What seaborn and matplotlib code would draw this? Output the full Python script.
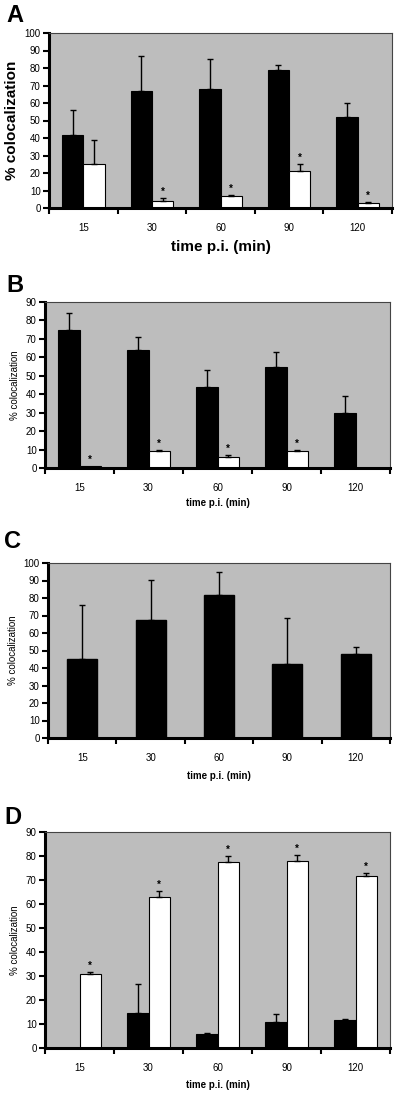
import numpy as np
import pandas as pd
import matplotlib
matplotlib.use("Agg")
import matplotlib.pyplot as plt
import seaborn as sns

# veri (okunan degerler)
times = ["15", "30", "60", "90", "120"]

a_black = [42, 67, 68, 79, 52]
a_black_err = [14, 20, 17, 3, 8]
a_white = [25, 4, 7, 21, 3]
a_white_err = [14, 1.5, 0.5, 4, 0.3]
a_star = [False, True, True, True, True]

b_black = [75, 64, 44, 55, 30]
b_black_err = [9, 7, 9, 8, 9]
b_white = [1, 9, 6, 9, 0]
b_white_err = [0, 0.5, 1, 0.8, 0]
b_star = [True, True, True, True, False]

c_black = [45, 67.5, 82, 42.5, 48]
c_black_err = [31, 23, 13, 26, 4]

d_black = [0, 14.5, 6, 11, 11.5]
d_black_err = [0, 12, 0.3, 3, 0.6]
d_white = [31, 63, 77.5, 78, 71.5]
d_white_err = [0.6, 2.5, 2.5, 2.5, 1.5]
d_star = [True, True, True, True, True]

W, H = 400, 1098
BG = "#bdbdbd"

sns.set_style("white")
plt.rcParams["font.family"] = ["Liberation Sans", "DejaVu Sans"]
plt.rcParams["text.color"] = "black"
plt.rcParams["axes.labelcolor"] = "black"
plt.rcParams["xtick.color"] = "black"
plt.rcParams["ytick.color"] = "black"

fig = plt.figure(figsize=(W / 100, H / 100), dpi=100)


def px_axes(left, top, right, bottom):
    return fig.add_axes([left / W, 1 - bottom / H, (right - left) / W, (bottom - top) / H])


def style_axes(ax, ymax, ylabel, label_size, bold, xlab_px):
    ax.set_facecolor(BG)
    ax.set_ylim(0, ymax)
    ax.set_xlim(-0.5, 4.5)
    ax.set_yticks(np.arange(0, ymax + 1, 10))
    ax.set_xticks(range(5))
    ax.set_xticklabels(times)
    ax.set_xticks(np.arange(-0.5, 5, 1), minor=True)
    ax.tick_params(axis="x", which="major", length=0, pad=11, labelsize=7)
    ax.tick_params(axis="x", which="minor", length=4, width=1.5, direction="out", bottom=True)
    ax.tick_params(axis="y", length=4, width=1.5, direction="out", left=True, pad=2, labelsize=7)
    for s in ["left", "bottom"]:
        ax.spines[s].set_linewidth(2.2)
        ax.spines[s].set_color("black")
    for s in ["top", "right"]:
        ax.spines[s].set_linewidth(0.8)
        ax.spines[s].set_color("#444444")
    w = "bold" if bold else "normal"
    ax.set_ylabel(ylabel, fontsize=label_size, fontweight=w)
    ax.set_xlabel("time p.i. (min)", fontsize=label_size if bold else 7, fontweight="bold")
    h_px = ax.get_position().height * H
    ax.xaxis.set_label_coords(0.5, -xlab_px / h_px)


def draw_pair(ax, black, black_err, white, white_err, stars):
    df = pd.DataFrame({
        "time": times * 2,
        "value": black + white,
        "series": ["k"] * 5 + ["w"] * 5,
    })
    sns.barplot(data=df, x="time", y="value", hue="series", order=times,
                hue_order=["k", "w"], palette={"k": "black", "w": "white"},
                edgecolor="black", linewidth=0.8, width=0.62, errorbar=None,
                legend=False, ax=ax)
    for cont, vals, errs in zip(ax.containers, [black, white], [black_err, white_err]):
        xs = [p.get_x() + p.get_width() / 2 for p in cont]
        for x, v, e in zip(xs, vals, errs):
            if e > 0:
                ax.errorbar(x, v, yerr=[[0], [e]], fmt="none", ecolor="black",
                            elinewidth=1, capsize=2.5, capthick=1)
    white_cont = ax.containers[1]
    for p, v, e, s in zip(white_cont, white, white_err, stars):
        if s:
            ax.annotate("*", (p.get_x() + p.get_width() / 2, v + e), xytext=(0, 1),
                        textcoords="offset points", ha="center", va="bottom",
                        fontsize=7, fontweight="bold")


# A
axA = px_axes(49, 33, 392, 208)
draw_pair(axA, a_black, a_black_err, a_white, a_white_err, a_star)
style_axes(axA, 100, "% colocalization", 11, True, 32)

# B
axB = px_axes(45, 302, 390, 468)
draw_pair(axB, b_black, b_black_err, b_white, b_white_err, b_star)
style_axes(axB, 90, "% colocalization", 7, False, 30)

# C
axC = px_axes(48, 563, 390, 738)
sns.barplot(x=times, y=c_black, order=times, color="black", edgecolor="black",
            width=0.44, errorbar=None, ax=axC)
for p, v, e in zip(axC.containers[0], c_black, c_black_err):
    axC.errorbar(p.get_x() + p.get_width() / 2, v, yerr=[[0], [e]], fmt="none",
                 ecolor="black", elinewidth=1, capsize=2.5, capthick=1)
style_axes(axC, 100, "% colocalization", 7, False, 33)

# D
axD = px_axes(45, 832, 390, 1048)
draw_pair(axD, d_black, d_black_err, d_white, d_white_err, d_star)
style_axes(axD, 90, "% colocalization", 7, False, 32)

# panel harfleri
for letter, (x, y) in zip("ABCD", [(6, 15), (6, 285), (4, 542), (4, 817)]):
    fig.text(x / W, 1 - y / H, letter, fontsize=17, fontweight="bold",
             color="black", ha="left", va="center")

fig.savefig("out.png", dpi=100)
